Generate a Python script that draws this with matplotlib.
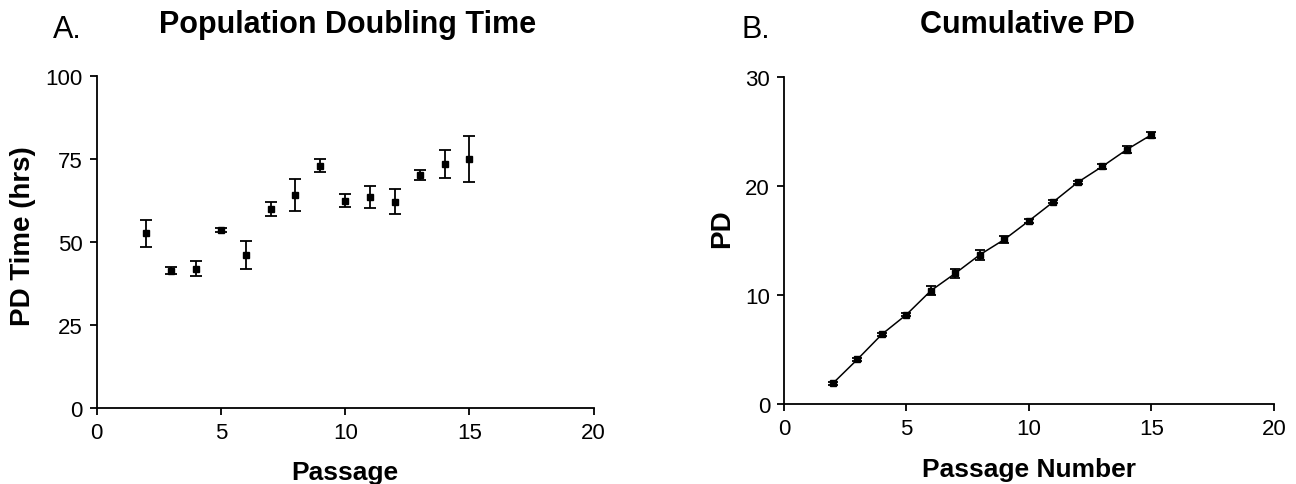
import matplotlib
matplotlib.use("Agg")
import matplotlib.pyplot as plt

plt.rcParams['font.family'] = ['Liberation Sans', 'DejaVu Sans']

passage = [2, 3, 4, 5, 6, 7, 8, 9, 10, 11, 12, 13, 14, 15]
pd_time = [52.6, 41.4, 42.0, 53.6, 46.1, 59.9, 64.1, 73.0, 62.5, 63.5, 62.2, 70.3, 73.5, 75.0]
pd_time_err = [4.0, 1.0, 2.3, 0.5, 4.3, 2.1, 4.8, 1.9, 2.1, 3.3, 3.8, 1.5, 4.3, 7.0]

cum_pd = [1.9, 4.1, 6.4, 8.2, 10.4, 12.0, 13.7, 15.1, 16.8, 18.55, 20.35, 21.8, 23.35, 24.7]
cum_pd_err = [0.15, 0.15, 0.15, 0.15, 0.4, 0.4, 0.45, 0.3, 0.2, 0.15, 0.15, 0.2, 0.3, 0.3]

fig = plt.figure(figsize=(12.96, 4.85), dpi=100)
ax1 = fig.add_axes([0.0746, 0.1567, 0.3835, 0.6845])
ax2 = fig.add_axes([0.6049, 0.1649, 0.378, 0.6742])

bold = dict(fontweight='bold')


def style_axes(ax):
    for s in ['top', 'right']:
        ax.spines[s].set_visible(False)
    for s in ['left', 'bottom']:
        ax.spines[s].set_linewidth(1.3)
    ax.tick_params(direction='out', length=5, width=1.3, labelsize=16, pad=5)
    ax.set_xlim(0, 20)
    ax.set_xticks([0, 5, 10, 15, 20])


ax1.errorbar(passage, pd_time, yerr=pd_time_err, fmt='s', color='black',
             ms=5, capsize=4.5, elinewidth=1.3, capthick=1.3)
style_axes(ax1)
ax1.set_ylim(0, 100)
ax1.set_yticks([0, 25, 50, 75, 100])
ax1.set_xlabel('Passage', fontsize=19, va='center', **bold)
ax1.xaxis.set_label_coords(0.5, -0.193)
ax1.set_ylabel('PD Time (hrs)', fontsize=20, va='center', **bold)
ax1.yaxis.set_label_coords(-0.148, 0.52)
fig.text(0.268, 0.948, 'Population Doubling Time', fontsize=22, ha='center',
         va='center', **bold)
fig.text(0.041, 0.938, 'A.', fontsize=22, va='center', ha='left')

ax2.errorbar(passage, cum_pd, yerr=cum_pd_err, fmt='s-', color='black',
             ms=5, lw=1.1, capsize=3.5, elinewidth=1.3, capthick=1.3)
style_axes(ax2)
ax2.set_ylim(0, 30)
ax2.set_yticks([0, 10, 20, 30])
ax2.set_xlabel('Passage Number', fontsize=19, va='center', **bold)
ax2.xaxis.set_label_coords(0.5, -0.199)
ax2.set_ylabel('PD', fontsize=20, va='center', **bold)
ax2.yaxis.set_label_coords(-0.127, 0.54)
fig.text(0.793, 0.948, 'Cumulative PD', fontsize=22, ha='center',
         va='center', **bold)
fig.text(0.5725, 0.938, 'B.', fontsize=22, va='center', ha='left')

fig.savefig('out.png', dpi=100)
